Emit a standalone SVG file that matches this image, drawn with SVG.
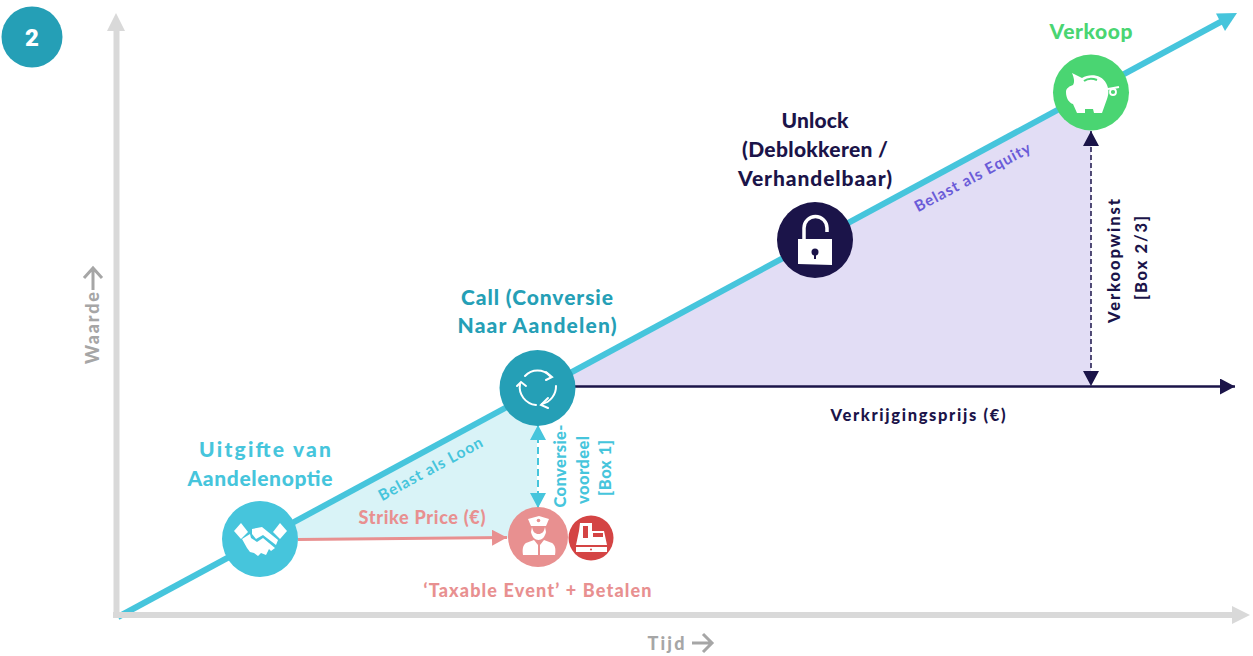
<svg xmlns="http://www.w3.org/2000/svg" width="1253" height="656" viewBox="0 0 1253 656">
<style>
text{font-family:"Lato","Liberation Sans",sans-serif;font-weight:900;text-anchor:middle}
.l{font-size:21px}
.m{font-size:18px}
.s{font-size:16.5px}
.b{font-size:15.5px;font-weight:700}
.ic{fill:#fff}
.is{fill:none;stroke:#fff}
</style>
<defs>
<marker id="aNavy" markerUnits="userSpaceOnUse" markerWidth="16" markerHeight="16" refX="15" refY="8" orient="auto-start-reverse"><path d="M0 0L15 8L0 16Z" fill="#1b1449"/></marker>
<marker id="aTeal" markerUnits="userSpaceOnUse" markerWidth="16" markerHeight="16" refX="15" refY="8" orient="auto-start-reverse"><path d="M0 0L15 8L0 16Z" fill="#46c5dc"/></marker>
<marker id="aPink" markerUnits="userSpaceOnUse" markerWidth="16" markerHeight="16" refX="15" refY="8" orient="auto"><path d="M0 0L15 8L0 16Z" fill="#e89090"/></marker>
</defs>
<rect width="1253" height="656" fill="#fff"/>
<g id="areas">
<path d="M260 540L537 389L537 538Z" fill="#d9f3f7"/>
<path d="M537 389L1091 92L1091 386L537 386Z" fill="#e2ddf5"/>
</g>
<g id="connectors">
<path d="M118 617L1226 19" fill="none" stroke="#46c5dc" stroke-width="6"/>
<path d="M1237 13L1216 13.500L1225 31Z" fill="#46c5dc"/>
<path d="M575 386.500H1235" fill="none" stroke="#1b1449" stroke-width="2.500" marker-end="url(#aNavy)"/>
<path d="M1091 131V386" fill="none" stroke="#1b1449" stroke-width="1.500" stroke-dasharray="5 3" marker-start="url(#aNavy)" marker-end="url(#aNavy)"/>
<path d="M538 425V508" fill="none" stroke="#46c5dc" stroke-width="2" stroke-dasharray="7 4" marker-start="url(#aTeal)" marker-end="url(#aTeal)"/>
<path d="M298 539.500L507 537.500" fill="none" stroke="#e89090" stroke-width="3" marker-end="url(#aPink)"/>
</g>
<g id="axes">
<path d="M116.500 618V30M113 615H1232" fill="none" stroke="#d9d9d9" stroke-width="6"/>
<path d="M107 31L116 13L125 31Z" fill="#d9d9d9"/>
<path d="M1232 606L1250 615L1232 624Z" fill="#d9d9d9"/>
</g>
<g id="badge">
<circle cx="32" cy="37" r="30.500" fill="#259fb6"/>
<text x="32" y="46" font-size="24" fill="#fff" style="font-family:Roboto,sans-serif">2</text>
</g>
<g id="node-uitgifte">
<circle cx="260" cy="539" r="38" fill="#46c5dc"/>
<g class="ic">
<path d="M234 531L241 523L248 532L241 539Z"/>
<path d="M287 531L280 523L273 532L280 539Z"/>
<path d="M252 529L262 527L278 540L276 545L263 535L256 539L252 534Z"/>
<path d="M242 539L250 534L251 538L257 542L263 538L275 548L271 551L269 549L266 555L261 553L258 556L254 553L250 552L247 548Z"/>
</g>
<text class="l" x="265" y="457" fill="#46c5dc" textLength="132">Uitgifte van</text>
<text class="l" x="260" y="486" fill="#46c5dc" textLength="145">Aandelenoptie</text>
</g>
<g id="node-call">
<circle cx="537.500" cy="388" r="38" fill="#259fb6"/>
<g class="is" stroke-width="2" stroke-linecap="round">
<path d="M525 376A17 17 0 0 1 550 376"/>
<path d="M556 386A18 18 0 0 1 542 404"/>
<path d="M536 405A18 18 0 0 1 520 384"/>
<path d="M546 372L552 377L546 380"/>
<path d="M548 398L541 405L548 408"/>
<path d="M517 386L521 382L526 386"/>
</g>
<text class="l" x="537" y="305" fill="#259fb6" textLength="152">Call (Conversie</text>
<text class="l" x="537" y="333" fill="#259fb6" textLength="159">Naar Aandelen)</text>
</g>
<g id="node-unlock">
<circle cx="815" cy="240" r="38" fill="#1b1449"/>
<path d="M798 239H832V265L798 264Z" fill="#fff"/>
<path d="M804 239V228A11.500 11.500 0 0 1 827 228V232" fill="none" stroke="#fff" stroke-width="3.500"/>
<circle cx="815" cy="252" r="3.500" fill="#1b1449"/>
<path d="M814 252H816V259H814Z" fill="#1b1449"/>
<text class="l" x="815" y="128" fill="#1b1449" textLength="67">Unlock</text>
<text class="l" x="815" y="157" fill="#1b1449" textLength="146">(Deblokkeren /</text>
<text class="l" x="815" y="186" fill="#1b1449" textLength="154">Verhandelbaar)</text>
</g>
<g id="node-verkoop">
<circle cx="1091" cy="92.500" r="38" fill="#4ad572"/>
<path class="ic" d="M1072 73L1082 78C1090 73 1102 75 1106 83C1109 88 1109 94 1107 99L1102 113H1094L1093 109H1085L1085 113H1077L1073 104C1069 103 1066 98 1066 92C1066 88 1070 86 1073 85C1075 82 1074 78 1072 73Z"/>
<path d="M1084 81C1088 78 1092 78 1097 80" fill="none" stroke="#4ad572" stroke-width="2"/>
<path d="M1108 89L1119 87" fill="none" stroke="#fff" stroke-width="2"/>
<circle cx="1113" cy="92" r="3" fill="none" stroke="#fff" stroke-width="1.800"/>
<text class="l" x="1091" y="39" fill="#4ad572" textLength="83">Verkoop</text>
</g>
<g id="node-taxable">
<circle cx="538" cy="537" r="30" fill="#e89090"/>
<path class="ic" d="M528 519L539 516L549 519L546 526H531Z"/>
<circle cx="538.500" cy="520.500" r="1.800" fill="#e89090"/>
<path class="ic" d="M532 527C533 532 535 534 538.500 534C542 534 544 532 545 527L546 532C545 537 542 540 538.500 540C535 540 532 537 531 532Z"/>
<path class="ic" d="M523 555C522 549 523 545 526 543L534 540L538 545V555Z"/>
<path class="ic" d="M555 555C556 549 555 545 552 543L544 540L540 545V555Z"/>
<text class="m" x="537.500" y="597" fill="#e89090" textLength="228">‘Taxable Event’ + Betalen</text>
</g>
<g id="node-cash">
<circle cx="591" cy="538" r="22.500" fill="#d44444"/>
<path class="ic" d="M580 523H592V531H604L607 545H576L579 531Z"/>
<path d="M583 526H588V538H583Z" fill="#d44444"/>
<path d="M593 533H603V537H593Z" fill="#d44444"/>
<path class="ic" d="M576 547H607V552H576Z"/>
<circle cx="591" cy="549.500" r="1" fill="#d44444"/>
</g>
<g id="labels">
<text class="b" transform="translate(433 473.500) rotate(-28.500)" fill="#46c5dc" textLength="116">Belast als Loon</text>
<text class="b" transform="translate(975 182) rotate(-28)" fill="#6a5bd8" textLength="129">Belast als Equity</text>
<text class="m" x="422" y="524" fill="#e89090" textLength="127">Strike Price (€)</text>
<text class="s" x="918" y="421" fill="#1b1449" textLength="175">Verkrijgingsprijs (€)</text>
<text class="s" transform="translate(1120 261) rotate(-90)" fill="#1b1449" textLength="124">Verkoopwinst</text>
<text class="s" transform="translate(1147 258) rotate(-90)" fill="#1b1449" textLength="84">[Box 2/3]</text>
<text class="s" transform="translate(566 466) rotate(-90)" fill="#46c5dc" textLength="83">Conversie-</text>
<text class="s" transform="translate(589 470) rotate(-90)" fill="#46c5dc" textLength="68">voordeel</text>
<text class="s" transform="translate(611 468) rotate(-90)" fill="#46c5dc" textLength="56">[Box 1]</text>
<text class="m" transform="translate(99 328) rotate(-90)" fill="#a6a6a6" textLength="72">Waarde</text>
<path d="M84 278L93 268L102 278M93 268V290" fill="none" stroke="#a6a6a6" stroke-width="3"/>
<text class="m" x="666" y="650" fill="#a6a6a6" textLength="37">Tijd</text>
<path d="M692 643H711M703 634L712 643L703 652" fill="none" stroke="#a6a6a6" stroke-width="3"/>
</g>
</svg>
